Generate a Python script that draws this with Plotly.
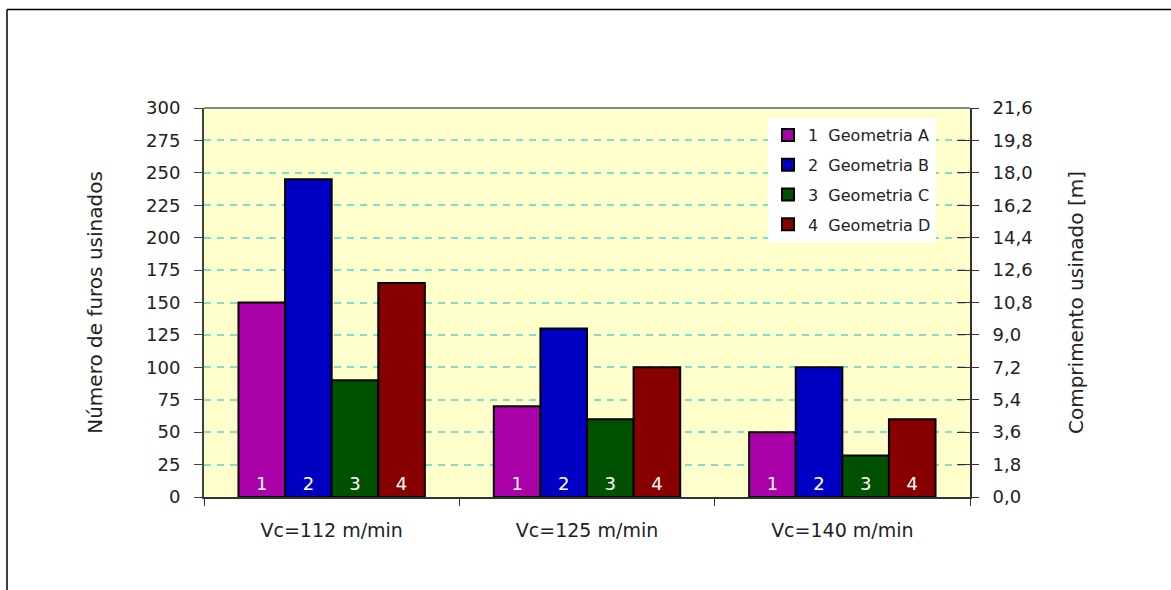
import plotly.graph_objects as go

# Cutting speeds (categories) and holes drilled per tool geometry
categories = ["Vc=112 m/min", "Vc=125 m/min", "Vc=140 m/min"]
series_names = ["1  Geometria A", "2  Geometria B", "3  Geometria C", "4  Geometria D"]
series_labels = ["1", "2", "3", "4"]
geom_a = [150, 70, 50]
geom_b = [245, 130, 100]
geom_c = [90, 60, 32]
geom_d = [165, 100, 60]
series_values = [geom_a, geom_b, geom_c, geom_d]
colors = ["#aa00aa", "#0000c4", "#005200", "#880000"]

left_ticks = list(range(0, 301, 25))
right_ticks = [round(i * 1.8, 1) for i in range(13)]

W, H = 1171, 590
L, R, T, B = 204, 970, 108, 497

fig = go.Figure()
for name, lab, vals, col in zip(series_names, series_labels, series_values, colors):
    fig.add_trace(go.Bar(
        x=categories, y=vals, name=name, legendgroup=name,
        marker=dict(color=col, line=dict(color="black", width=2)),
        text=[lab] * len(vals), textposition="inside", insidetextanchor="start",
        textangle=0, textfont=dict(color="white", size=18, family="DejaVu Sans"),
        cliponaxis=False, hoverinfo="skip",
    ))

# empty traces so the right-hand axes are drawn
fig.add_trace(go.Scatter(x=[], y=[], yaxis="y2", showlegend=False))
fig.add_trace(go.Scatter(x=[], y=[], yaxis="y3", showlegend=False))

font = "DejaVu Sans"
fig.update_layout(
    width=W, height=H,
    margin=dict(l=L, r=W - R, t=T, b=H - B, pad=0),
    paper_bgcolor="white", plot_bgcolor="#ffffcc",
    separators=",.",
    font=dict(family=font, size=18, color="#222222"),
    barmode="group", bargap=0.27, bargroupgap=0,
    showlegend=True,
    legend=dict(
        x=(768 - L) / (R - L), y=(B - 118) / (B - T), xanchor="left", yanchor="top",
        bgcolor="white", borderwidth=0, font=dict(size=16, family=font, color="#222222"),
        tracegroupgap=6, itemwidth=30,
    ),
    xaxis=dict(
        showline=True, linecolor="#333333", linewidth=2,
        ticks="outside", tickson="boundaries", ticklen=7, tickcolor="#333333", tickwidth=1,
        tickfont=dict(size=19, family=font, color="#222222"),
        ticklabelstandoff=15,
        showgrid=False, fixedrange=True,
    ),
    yaxis=dict(
        range=[0, 300], tickvals=left_ticks,
        showline=True, linecolor="#404040", linewidth=2,
        ticks="outside", ticklen=8, tickcolor="#404040", tickwidth=1,
        ticklabelstandoff=10,
        showgrid=True, gridcolor="#80e0d0", gridwidth=2, griddash="7px,6px",
        zeroline=False,
        title=dict(text="Número de furos usinados", font=dict(size=20, family=font, color="#222222"), standoff=38),
    ),
    yaxis2=dict(
        range=[0, 21.6], tickvals=right_ticks, tickformat=".1f",
        overlaying="y", side="right",
        showline=True, linecolor="#333333", linewidth=2,
        ticks="outside", ticklen=7, tickcolor="#333333", tickwidth=1,
        ticklabelstandoff=10,
        showgrid=False, zeroline=False,
        title=dict(text="Comprimento usinado [m]", font=dict(size=20, family=font, color="#222222"), standoff=37),
    ),
    yaxis3=dict(
        range=[0, 21.6], tickvals=right_ticks,
        overlaying="y", side="right",
        showline=False, ticks="inside", ticklen=13, tickcolor="#333333", tickwidth=1,
        showticklabels=False, showgrid=False, zeroline=False,
    ),
)

# gray top edge of the plot area
fig.add_shape(type="line", xref="paper", yref="paper", x0=0, x1=1, y0=1, y1=1,
              line=dict(color="#8a8a8a", width=2))
# outer frame around the chart
fx = (7 - L) / (R - L)
fy = (B - 9.5) / (B - T)
fig.add_shape(type="line", xref="paper", yref="paper", x0=fx, x1=1.5, y0=fy, y1=fy,
              line=dict(color="black", width=1.5))
fig.add_shape(type="line", xref="paper", yref="paper", x0=fx, x1=fx, y0=fy, y1=-0.5,
              line=dict(color="black", width=1.5))

fig.write_html("out.html")
